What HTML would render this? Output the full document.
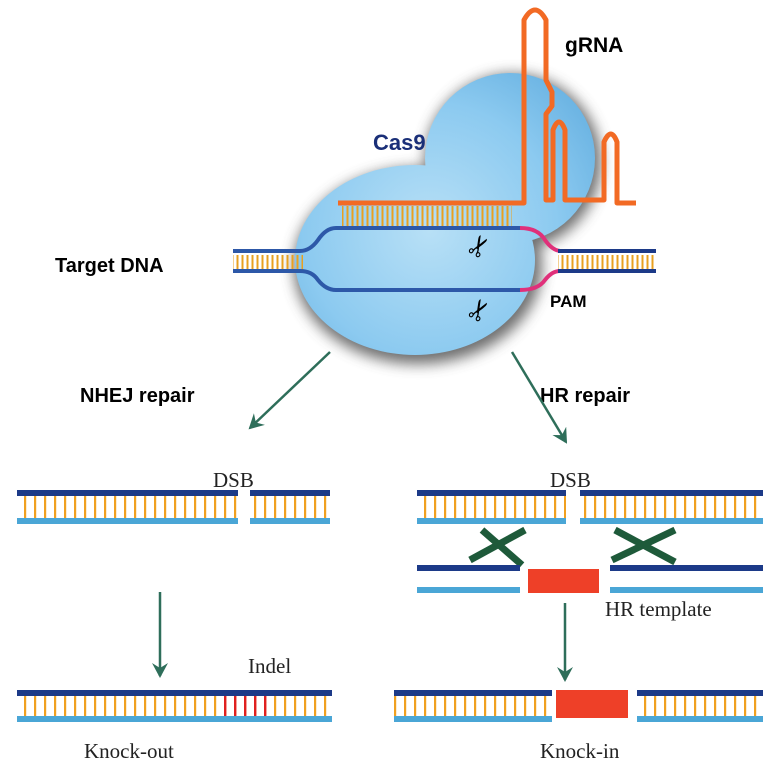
<!DOCTYPE html>
<html><head><style>html,body{margin:0;padding:0;background:#fff}svg{display:block}</style></head><body>
<svg width="782" height="778" viewBox="0 0 782 778" xmlns="http://www.w3.org/2000/svg">
<defs>
<pattern id="r" width="10" height="40" patternUnits="userSpaceOnUse"><rect x="4" width="2.2" height="40" fill="#f0a020"/></pattern>
<pattern id="rr" width="10" height="40" patternUnits="userSpaceOnUse"><rect x="4" width="2.4" height="40" fill="#e02020"/></pattern>
<pattern id="gr" width="5" height="40" patternUnits="userSpaceOnUse"><rect x="1.5" width="2" height="40" fill="#e8a020"/></pattern>
<radialGradient id="bg" gradientUnits="userSpaceOnUse" cx="430" cy="230" r="230"><stop offset="0" stop-color="#b8e0f6"/><stop offset="0.55" stop-color="#8ccaf0"/><stop offset="1" stop-color="#5aa8dc"/></radialGradient>
<filter id="sh" x="-20%" y="-20%" width="140%" height="140%"><feGaussianBlur stdDeviation="7"/></filter>
<marker id="ah" markerWidth="18" markerHeight="18" refX="13" refY="8" orient="auto" markerUnits="userSpaceOnUse"><path d="M0,0 L15,8 L0,16 L5,8z" fill="#2e6e5a"/></marker>
</defs>
<g filter="url(#sh)" fill="#555" opacity="0.85"><ellipse cx="418" cy="266" rx="124" ry="98"/><circle cx="513" cy="162" r="88"/></g>
<g fill="url(#bg)"><ellipse cx="415" cy="260" rx="120" ry="95"/><circle cx="510" cy="158" r="85"/><rect x="440" y="160" width="80" height="60"/></g>
<path d="M338,203 H524 V20 Q535,0 546,20 V80 L552,92 V106 L546,114 V200 H553 V130 Q559,114 565,130 V200 H604 V142 Q611,126 617,142 V203 H636" fill="none" stroke="#f26a24" stroke-width="5" stroke-linejoin="round"/>
<rect x="342" y="206" width="170" height="20" fill="url(#gr)"/>
<rect x="233" y="255" width="70" height="15" fill="url(#gr)"/>
<rect x="558" y="255" width="98" height="15" fill="url(#gr)"/>
<path d="M233,251 H300 Q310,251 318,240 Q326,228 336,228 H520" fill="none" stroke="#2d58a8" stroke-width="4"/>
<path d="M520,228 Q538,228 545,240 Q552,250 560,251" fill="none" stroke="#e0307a" stroke-width="4"/>
<path d="M558,251 H656" fill="none" stroke="#1c3a88" stroke-width="4"/>
<path d="M233,271 H300 Q312,271 318,280 Q326,290 336,290 H520" fill="none" stroke="#2d58a8" stroke-width="4"/>
<path d="M520,290 Q538,290 545,280 Q552,271 560,271" fill="none" stroke="#e0307a" stroke-width="4"/>
<path d="M558,271 H656" fill="none" stroke="#1c3a88" stroke-width="4"/>
<text x="466" y="254" font-family="DejaVu Sans" font-size="28" transform="rotate(-60 480 244)">✂</text>
<text x="466" y="318" font-family="DejaVu Sans" font-size="28" transform="rotate(-60 480 308)">✂</text>
<g font-family="Liberation Sans, sans-serif" font-weight="bold">
<text x="55" y="272" font-size="20">Target DNA</text>
<text x="373" y="150" font-size="22" fill="#1a2f78">Cas9</text>
<text x="565" y="52" font-size="21">gRNA</text>
<text x="550" y="307" font-size="17">PAM</text>
<text x="80" y="402" font-size="20">NHEJ repair</text>
<text x="540" y="402" font-size="20">HR repair</text>
</g>
<g stroke="#2e6e5a" stroke-width="2.5" marker-end="url(#ah)">
<line x1="330" y1="352" x2="250" y2="428"/>
<line x1="512" y1="352" x2="566" y2="442"/>
<line x1="160" y1="592" x2="160" y2="676"/>
<line x1="565" y1="603" x2="565" y2="680"/>
</g>
<g>
<rect x="17" y="496" width="221" height="24" fill="url(#r)"/><rect x="250" y="496" width="80" height="24" fill="url(#r)"/>
<rect x="17" y="490" width="221" height="6" fill="#1c3a88"/><rect x="250" y="490" width="80" height="6" fill="#1c3a88"/>
<rect x="17" y="518" width="221" height="6" fill="#4aa6d6"/><rect x="250" y="518" width="80" height="6" fill="#4aa6d6"/>
<rect x="417" y="496" width="149" height="24" fill="url(#r)"/><rect x="580" y="496" width="183" height="24" fill="url(#r)"/>
<rect x="417" y="490" width="149" height="6" fill="#1c3a88"/><rect x="580" y="490" width="183" height="6" fill="#1c3a88"/>
<rect x="417" y="518" width="149" height="6" fill="#4aa6d6"/><rect x="580" y="518" width="183" height="6" fill="#4aa6d6"/>
</g>
<g stroke="#1e5a3a" stroke-width="7"><line x1="470" y1="560" x2="525" y2="530"/><line x1="482" y1="530" x2="522" y2="565"/>
<line x1="612" y1="560" x2="675" y2="530"/><line x1="615" y1="530" x2="675" y2="562"/></g>
<rect x="417" y="565" width="103" height="6" fill="#1c3a88"/><rect x="610" y="565" width="153" height="6" fill="#1c3a88"/>
<rect x="417" y="587" width="103" height="6" fill="#4aa6d6"/><rect x="610" y="587" width="153" height="6" fill="#4aa6d6"/>
<rect x="528" y="569" width="71" height="24" fill="#ee4028"/>
<rect x="17" y="696" width="315" height="22" fill="url(#r)"/>
<rect x="222" y="696" width="52" height="22" fill="url(#rr)"/>
<rect x="17" y="690" width="315" height="6" fill="#1c3a88"/><rect x="17" y="716" width="315" height="6" fill="#4aa6d6"/>
<rect x="394" y="696" width="158" height="22" fill="url(#r)"/><rect x="637" y="696" width="126" height="22" fill="url(#r)"/>
<rect x="394" y="690" width="158" height="6" fill="#1c3a88"/><rect x="394" y="716" width="158" height="6" fill="#4aa6d6"/>
<rect x="637" y="690" width="126" height="6" fill="#1c3a88"/><rect x="637" y="716" width="126" height="6" fill="#4aa6d6"/>
<rect x="556" y="690" width="72" height="28" fill="#ee4028"/>
<g font-family="Liberation Serif, serif" font-size="21" fill="#222">
<text x="213" y="487">DSB</text><text x="550" y="487">DSB</text>
<text x="605" y="616">HR template</text>
<text x="248" y="673">Indel</text>
<text x="84" y="758">Knock-out</text><text x="540" y="758">Knock-in</text>
</g>
</svg>
</body></html>
